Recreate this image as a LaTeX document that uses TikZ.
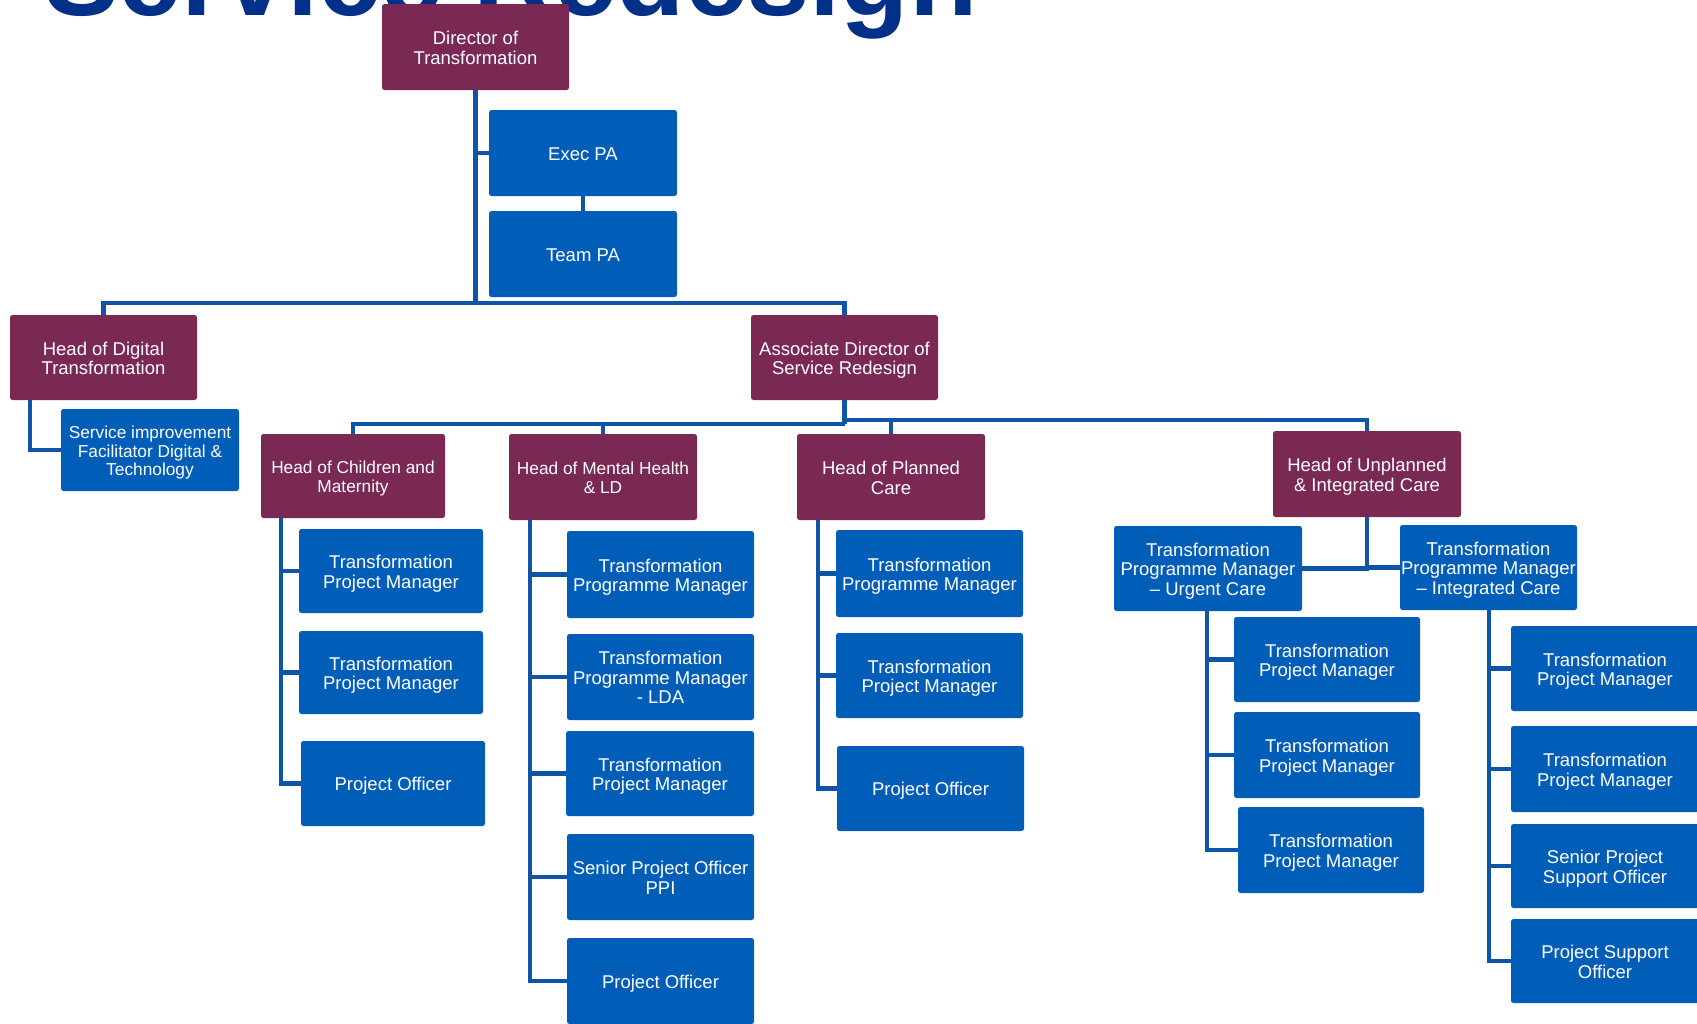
\documentclass[tikz,border=0pt]{standalone}
\usepackage{fontspec}
\setmainfont{Liberation Sans}
\definecolor{maroonbox}{HTML}{7A2854}
\definecolor{bluebox}{HTML}{005EB8}
\definecolor{linkblue}{HTML}{0F55A5}
\definecolor{titleblue}{HTML}{003087}
\tikzset{
  box/.style={rounded corners=2.5pt, inner sep=0pt, align=center, text=white,
    font=\fontsize{18.5}{19.5}\selectfont},
  mbox/.style={box, fill=maroonbox},
  bbox/.style={box, fill=bluebox},
  smalltext/.style={font=\fontsize{17.3}{18.3}\selectfont},
  link/.style={draw=linkblue, line width=4.5pt},
}
\newcommand{\bx}[8][]{%
  \node[#2, #1, minimum width={(#5-#3)*1pt}, minimum height={(#6-#4)*1pt}]
    (#7) at ({(#3+#5)/2},{(#4+#6)/2})
    {\raisebox{-3.4pt}[\height][\depth]{\begin{tabular}{@{}c@{}}#8\end{tabular}}};}
\begin{document}
\begin{tikzpicture}[x=1pt,y=-1pt]
\useasboundingbox (0,0) rectangle (1697,1023);
\clip (0,0) rectangle (1697,1023);
\fill[white] (0,0) rectangle (1697,1023);
% title (cut off at top)
\node[anchor=base west, inner sep=0pt, text=titleblue,
  font=\fontsize{112}{112}\selectfont\bfseries] (title) at (44,15) {Service Redesign};
% nodes
\bx{mbox}{382}{4}{569}{90}{dir}{Director of\\Transformation}
\bx{bbox}{489}{110}{677}{196}{exec}{Exec PA}
\bx{bbox}{489}{211}{677}{297}{team}{Team PA}
\bx{mbox}{10}{315}{197}{400}{hodt}{Head of Digital\\Transformation}
\bx[smalltext]{bbox}{61}{409}{239}{491}{sif}{Service improvement\\Facilitator Digital \&\\Technology}
\bx{mbox}{751}{315}{938}{400}{ad}{Associate Director of\\Service Redesign}
\bx[smalltext]{mbox}{261}{434}{445}{518}{cm}{Head of Children and\\Maternity}
\bx[smalltext]{mbox}{509}{434}{697}{520}{mh}{Head of Mental Health\\\& LD}
\bx{mbox}{797}{434}{985}{520}{pc}{Head of Planned\\Care}
\bx{mbox}{1273}{431}{1461}{517}{uc}{Head of Unplanned\\\& Integrated Care}
% children & maternity
\bx{bbox}{299}{529}{483}{613}{c1}{Transformation\\Project Manager}
\bx{bbox}{299}{631}{483}{714}{c2}{Transformation\\Project Manager}
\bx{bbox}{301}{741}{485}{826}{c3}{Project Officer}
% mental health
\bx{bbox}{567}{531}{754}{618}{m1}{Transformation\\Programme Manager}
\bx{bbox}{567}{634}{754}{720}{m2}{Transformation\\Programme Manager\\- LDA}
\bx{bbox}{566}{731}{754}{816}{m3}{Transformation\\Project Manager}
\bx{bbox}{567}{834}{754}{920}{m4}{Senior Project Officer\\PPI}
\bx{bbox}{567}{938}{754}{1024}{m5}{Project Officer}
% planned care
\bx{bbox}{836}{530}{1023}{617}{p1}{Transformation\\Programme Manager}
\bx{bbox}{836}{633}{1023}{718}{p2}{Transformation\\Project Manager}
\bx{bbox}{837}{746}{1024}{831}{p3}{Project Officer}
% unplanned
\bx{bbox}{1114}{526}{1302}{611}{urg}{Transformation\\Programme Manager\\– Urgent Care}
\bx{bbox}{1400}{525}{1577}{610}{int}{Transformation\\Programme Manager\\– Integrated Care}
\bx{bbox}{1234}{617}{1420}{702}{u1}{Transformation\\Project Manager}
\bx{bbox}{1234}{712}{1420}{798}{u2}{Transformation\\Project Manager}
\bx{bbox}{1238}{807}{1424}{893}{u3}{Transformation\\Project Manager}
\bx{bbox}{1511}{626}{1699}{711}{i1}{Transformation\\Project Manager}
\bx{bbox}{1511}{726}{1699}{812}{i2}{Transformation\\Project Manager}
\bx{bbox}{1511}{824}{1699}{908}{i3}{Senior Project\\Support Officer}
\bx{bbox}{1511}{919}{1699}{1003}{i4}{Project Support\\Officer}
% helper coordinates
\coordinate (h1) at (0,303);
\coordinate (h2) at (0,424);
\coordinate (h3) at (0,420);
\coordinate (dT) at (30,0);
\coordinate (cT) at (281,0);
\coordinate (mT) at (530,0);
\coordinate (pT) at (818,0);
\coordinate (uT) at (1207,0);
\coordinate (iT) at (1489,0);
% connectors
\draw[link] (dir.south) -- (dir.south |- h1);
\draw[link] (hodt.north) -- (hodt.north |- h1) -- (ad.north |- h1) -- (ad.north);
\draw[link] (dir.south |- exec.west) -- (exec.west);
\draw[link] (exec.south) -- (team.north);
\draw[link] (hodt.south -| dT) |- (sif.west);
\draw[link] (ad.south) -- (ad.south |- h2);
\draw[link] (cm.north) -- (cm.north |- h2) -- (ad.south |- h2);
\draw[link] (mh.north) -- (mh.north |- h2);
\draw[link] (ad.south |- h3) -- (uc.north |- h3) -- (uc.north);
\draw[link] (pc.north) -- (pc.north |- h3);
\draw[link] (cm.south -| cT) |- (c1.west);
\draw[link] (cm.south -| cT) |- (c2.west);
\draw[link] (cm.south -| cT) |- (c3.west);
\draw[link] (mh.south -| mT) |- (m1.west);
\draw[link] (mh.south -| mT) |- (m2.west);
\draw[link] (mh.south -| mT) |- (m3.west);
\draw[link] (mh.south -| mT) |- (m4.west);
\draw[link] (mh.south -| mT) |- (m5.west);
\draw[link] (pc.south -| pT) |- (p1.west);
\draw[link] (pc.south -| pT) |- (p2.west);
\draw[link] (pc.south -| pT) |- (p3.west);
\draw[link] (uc.south) |- (urg.east);
\draw[link] (uc.south) |- (int.west);
\draw[link] (urg.south -| uT) |- (u1.west);
\draw[link] (urg.south -| uT) |- (u2.west);
\draw[link] (urg.south -| uT) |- (u3.west);
\draw[link] (int.south -| iT) |- (i1.west);
\draw[link] (int.south -| iT) |- (i2.west);
\draw[link] (int.south -| iT) |- (i3.west);
\draw[link] (int.south -| iT) |- (i4.west);
\end{tikzpicture}
\end{document}
